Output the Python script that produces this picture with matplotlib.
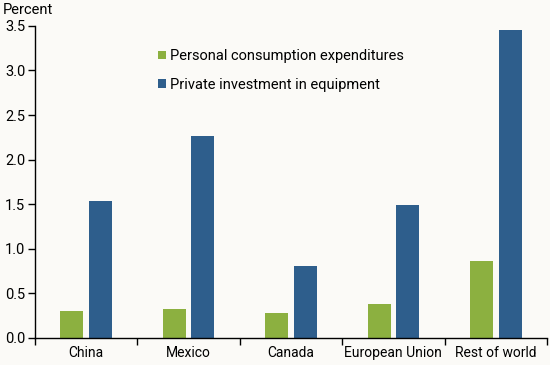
import numpy as np
import matplotlib
matplotlib.use("Agg")
import matplotlib.pyplot as plt

# data
regions = ["China", "Mexico", "Canada", "European Union", "Rest of world"]
pce = [0.30, 0.33, 0.28, 0.38, 0.86]
equipment = [1.54, 2.26, 0.81, 1.49, 3.45]
series_names = ["Personal consumption expenditures", "Private investment in equipment"]
yticks = [0.0, 0.5, 1.0, 1.5, 2.0, 2.5, 3.0, 3.5]

GREEN = "#8cb040"
BLUE = "#2e5e8c"
BG = "#fbfaf7"

plt.rcParams["font.family"] = ["Roboto", "DejaVu Sans"]

fig = plt.figure(figsize=(5.5, 3.65), dpi=100, facecolor=BG)
ax = fig.add_axes([0.0636, 0.074, 0.931, 0.855], facecolor=BG)

x = np.arange(len(regions))
w = 0.225
ax.bar(x - 0.14, pce, width=w, color=GREEN, label=series_names[0])
ax.bar(x + 0.14, equipment, width=w, color=BLUE, label=series_names[1])

ax.set_xlim(-0.5, len(regions) - 0.5)
ax.set_ylim(0, 3.5)
ax.set_yticks(yticks)
ax.set_yticklabels([f"{v:.1f}" for v in yticks], fontsize=10.5)

# category labels centred, ticks at group boundaries
ax.set_xticks(np.arange(len(regions) + 1) - 0.5)
ax.set_xticklabels([])
ax.set_xticks(x, minor=True)
ax.set_xticklabels(regions, minor=True, fontsize=10)
ax.tick_params(axis="x", which="minor", length=0, pad=6)
ax.tick_params(axis="x", which="major", length=5, width=1, direction="out")
ax.tick_params(axis="y", length=5, width=1, pad=2)

for s in ["top", "right"]:
    ax.spines[s].set_visible(False)
for s in ["left", "bottom"]:
    ax.spines[s].set_linewidth(1)
    ax.spines[s].set_color("black")

fig.text(0.005, 0.972, "Percent", fontsize=10.5, va="center", ha="left")

ax.legend(loc="upper left", bbox_to_anchor=(0.228, 0.944), frameon=False,
          fontsize=10.5, handlelength=0.55, handleheight=0.55, handletextpad=0.3,
          labelspacing=1.0, borderaxespad=0)

fig.savefig("out.png", dpi=100, facecolor=BG)
